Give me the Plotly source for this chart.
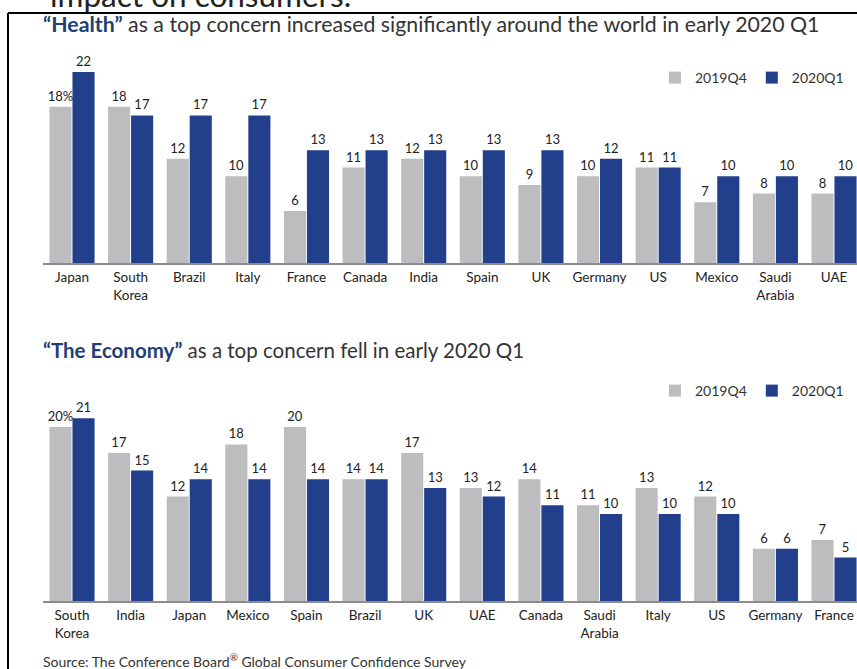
import plotly.graph_objects as go

# ---------------- data ----------------
health_countries = ["Japan", "South<br>Korea", "Brazil", "Italy", "France", "Canada", "India",
                    "Spain", "UK", "Germany", "US", "Mexico", "Saudi<br>Arabia", "UAE"]
health_2019q4 = [18, 18, 12, 10, 6, 11, 12, 10, 9, 10, 11, 7, 8, 8]
health_2020q1 = [22, 17, 17, 17, 13, 13, 13, 13, 13, 12, 11, 10, 10, 10]

econ_countries = ["South<br>Korea", "India", "Japan", "Mexico", "Spain", "Brazil", "UK",
                  "UAE", "Canada", "Saudi<br>Arabia", "Italy", "US", "Germany", "France"]
econ_2019q4 = [20, 17, 12, 18, 20, 14, 17, 13, 14, 11, 13, 12, 6, 7]
econ_2020q1 = [21, 15, 14, 14, 14, 14, 13, 12, 11, 10, 10, 10, 6, 5]

series_names = ["2019Q4", "2020Q1"]

# ---------------- styling ----------------
W, H = 857, 669
GRAY = "#bdbdbf"
BLUE = "#213f8a"
TITLE_BLUE = "#1f3f73"
TEXT = "#333333"
FONT = "Lato"

def px_x(x):
    return x / W

def px_y(y):
    return 1 - y / H

def labels(vals):
    return [str(v) for v in vals]

fig = go.Figure()

# ---- chart 1 ----
lab = labels(health_2019q4)
lab[0] = lab[0] + "%"
fig.add_trace(go.Bar(x=health_countries, y=health_2019q4, name=series_names[0],
                     marker_color=GRAY, text=lab, textposition="outside",
                     xaxis="x", yaxis="y", legend="legend", cliponaxis=False))
fig.add_trace(go.Bar(x=health_countries, y=health_2020q1, name=series_names[1],
                     marker_color=BLUE, text=labels(health_2020q1), textposition="outside",
                     xaxis="x", yaxis="y", legend="legend", cliponaxis=False))

# ---- chart 2 ----
lab2 = labels(econ_2019q4)
lab2[0] = lab2[0] + "%"
fig.add_trace(go.Bar(x=econ_countries, y=econ_2019q4, name=series_names[0],
                     marker_color=GRAY, text=lab2, textposition="outside",
                     xaxis="x2", yaxis="y2", legend="legend2", cliponaxis=False))
fig.add_trace(go.Bar(x=econ_countries, y=econ_2020q1, name=series_names[1],
                     marker_color=BLUE, text=labels(econ_2020q1), textposition="outside",
                     xaxis="x2", yaxis="y2", legend="legend2", cliponaxis=False))

fig.update_traces(marker_line_width=0, constraintext="none",
                  textfont=dict(family=FONT, size=13, color="#222222"),
                  hoverinfo="skip")

x_left = px_x(42.7)
xrange = [-0.5, 13.392]
xaxis_common = dict(range=xrange, showline=True, linecolor="#8c8c8c", linewidth=1.5,
                    showgrid=False, zeroline=False, ticks="outside", ticklen=1,
                    tickcolor="rgba(0,0,0,0)", fixedrange=True,
                    tickfont=dict(family=FONT, size=13.5, color="#222222"))
yaxis_common = dict(range=[0, 25], visible=False, showgrid=False, zeroline=False, fixedrange=True)

legend_common = dict(orientation="h", xanchor="right", yanchor="middle",
                     font=dict(family=FONT, size=14, color=TEXT),
                     bgcolor="rgba(0,0,0,0)", itemwidth=30, tracegroupgap=0,
                     itemclick=False, itemdoubleclick=False)

fig.update_layout(
    width=W, height=H,
    margin=dict(l=0, r=0, t=0, b=0, autoexpand=False),
    paper_bgcolor="white", plot_bgcolor="white",
    barmode="group", bargap=0.215, bargroupgap=0.04,
    xaxis=dict(domain=[x_left, 1.0], anchor="y", **xaxis_common),
    yaxis=dict(domain=[px_y(263), px_y(263 - 25 * 8.68)], anchor="x", **yaxis_common),
    xaxis2=dict(domain=[x_left, 1.0], anchor="y2", **xaxis_common),
    yaxis2=dict(domain=[px_y(601), px_y(601 - 25 * 8.7)], anchor="x2", **yaxis_common),
    legend=dict(x=px_x(849), y=px_y(78), **legend_common),
    legend2=dict(x=px_x(849), y=px_y(391), **legend_common),
    showlegend=True,
)

ann = []
ann.append(dict(text="impact on consumers.", x=px_x(48), y=px_y(-5), xref="paper", yref="paper",
                xanchor="left", yanchor="middle", showarrow=False,
                font=dict(family=FONT, size=31.5, color="#222222")))
ann.append(dict(text=f"<span style='color:{TITLE_BLUE}'><b>\u201cHealth\u201d</b></span> as a top concern increased significantly around the world in early 2020 Q1",
                x=px_x(41), y=px_y(24), xref="paper", yref="paper",
                xanchor="left", yanchor="middle", showarrow=False,
                font=dict(family=FONT, size=21.3, color=TEXT)))
ann.append(dict(text=f"<span style='color:{TITLE_BLUE}'><b>\u201cThe Economy\u201d</b></span> as a top concern fell in early 2020 Q1",
                x=px_x(41), y=px_y(350), xref="paper", yref="paper",
                xanchor="left", yanchor="middle", showarrow=False,
                font=dict(family=FONT, size=20.5, color=TEXT)))
ann.append(dict(text="Source: The Conference Board<sup>\u00ae</sup> Global Consumer Confidence Survey",
                x=px_x(41), y=px_y(660), xref="paper", yref="paper",
                xanchor="left", yanchor="middle", showarrow=False,
                font=dict(family=FONT, size=14, color=TEXT)))
fig.update_layout(annotations=ann)

# frame (top and left edges)
fig.add_shape(type="line", xref="paper", yref="paper",
              x0=px_x(8), x1=px_x(8), y0=0, y1=px_y(13),
              line=dict(color="black", width=2))
fig.add_shape(type="line", xref="paper", yref="paper",
              x0=px_x(8), x1=1, y0=px_y(13), y1=px_y(13),
              line=dict(color="black", width=2))

fig.write_html("out.html", config={"displayModeBar": False},
               post_script="document.body.style.margin='0';document.body.style.overflow='hidden';")
